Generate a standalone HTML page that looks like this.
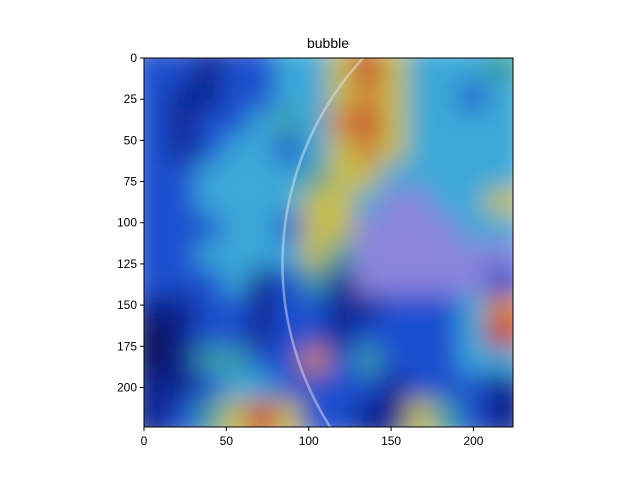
<!DOCTYPE html>
<html><head><meta charset="utf-8"><style>
html,body{margin:0;padding:0;background:#fff;font-family:"Liberation Sans",sans-serif;width:640px;height:480px;overflow:hidden;}
svg{display:block}
svg text{font-family:"Liberation Sans",sans-serif;font-size:12px;fill:#000}
</style></head><body>
<svg id="chart" width="640" height="480" xmlns="http://www.w3.org/2000/svg">
<defs>
<filter id="blur" x="-6%" y="-6%" width="112%" height="112%"><feGaussianBlur stdDeviation="13"/></filter>
<clipPath id="clip"><rect x="144" y="58" width="369" height="369"/></clipPath>
</defs>
<text x="328" y="48" text-anchor="middle" style="font-size:14px">bubble</text>
<g id="cells" clip-path="url(#clip)"></g>
<g id="overlay" clip-path="url(#clip)"></g>
<rect x="144" y="58" width="369" height="369" fill="none" stroke="#000" stroke-width="1"/>
<g id="axes"></g>
</svg>
<script>
const gridRows = [
"BBNBBCCYRYCCCT",
"BNNBBCCYOYCCBC",
"BNBBCTCORYCCCC",
"BNBCCBCYOYCCCC",
"BBCCCCTYYCCCCC",
"BBCCCCYYCLLCCY",
"BBBCCBYYLLLLCC",
"BBCCCCYTLLLLLL",
"BBBCNBTNLLLLLB",
"NNBBNBBNNBBBCO",
"DNBBNBBNBBBBCR",
"DNTTBBOBTBBBCC",
"NNBCCBBBBNBBBN",
"NBTYRYBBNNYTBN"
];
const colorKey = {N:"#10208e",B:"#1f4fcf",C:"#3aa8d8",T:"#3a9fa4",Y:"#c6bd4a",O:"#d28436",R:"#c83a30",L:"#8a84dc",D:"#0c155e"};
const xTicks = [0,50,100,150,200];
const yTicks = [0,25,50,75,100,125,150,175,200];
const extent = 224;
const x0=144,y0=58,size=369,s=size/extent;
const X=v=>x0+v*s, Y=v=>y0+v*s;
const NS="http://www.w3.org/2000/svg";
const cells=document.getElementById('cells');
const blurG=document.createElementNS(NS,'g');
blurG.setAttribute('filter','url(#blur)');
cells.appendChild(blurG);
const n=gridRows.length, cw=extent/n;
gridRows.forEach((row,r)=>{[...row].forEach((k,c)=>{
  const e=document.createElementNS(NS,'rect');
  const ex = (c===0?12:0), ey=(r===0?12:0);
  e.setAttribute('x',X(c*cw)-1-ex);e.setAttribute('y',Y(r*cw)-1-ey);
  e.setAttribute('width',cw*s+2+ex+(c===n-1?12:0));e.setAttribute('height',cw*s+2+ey+(r===n-1?12:0));
  e.setAttribute('fill',colorKey[k]);
  
  
  blurG.appendChild(e);
});});
const ov=document.getElementById('overlay');
const arc=document.createElementNS(NS,'path');
const R=184*s;
arc.setAttribute('d',`M ${X(133)} ${Y(0)} A ${R} ${R} 0 0 0 ${X(113)} ${Y(224)}`);
arc.setAttribute('fill','none');arc.setAttribute('stroke','rgba(230,240,255,0.45)');arc.setAttribute('stroke-width','2.5');


ov.appendChild(arc);
const axes=document.getElementById('axes');
xTicks.forEach(v=>{
  const l=document.createElementNS(NS,'line');
  l.setAttribute('x1',X(v));l.setAttribute('x2',X(v));l.setAttribute('y1',427);l.setAttribute('y2',431);l.setAttribute('stroke','#000');
  
  
  axes.appendChild(l);
  const t=document.createElementNS(NS,'text');
  t.setAttribute('x',X(v));t.setAttribute('y',445);t.setAttribute('text-anchor','middle');t.textContent=v;
  
  
  axes.appendChild(t);
});
yTicks.forEach(v=>{
  const l=document.createElementNS(NS,'line');
  l.setAttribute('x1',140);l.setAttribute('x2',144);l.setAttribute('y1',Y(v));l.setAttribute('y2',Y(v));l.setAttribute('stroke','#000');
  
  
  axes.appendChild(l);
  const t=document.createElementNS(NS,'text');
  t.setAttribute('x',137);t.setAttribute('y',Y(v)+4);t.setAttribute('text-anchor','end');t.textContent=v;
  
  
  axes.appendChild(t);
});
</script>
</body></html>
